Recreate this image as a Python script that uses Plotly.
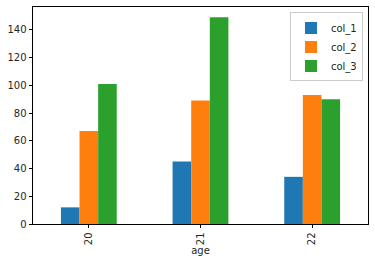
import plotly.graph_objects as go

categories = ["20", "21", "22"]
col_1 = [12, 45, 34]
col_2 = [67, 89, 93]
col_3 = [101, 149, 90]
series_names = ["col_1", "col_2", "col_3"]
colors = ["#1f77b4", "#ff7f0e", "#2ca02c"]

fig = go.Figure()
for name, vals, c in zip(series_names, [col_1, col_2, col_3], colors):
    fig.add_trace(go.Bar(x=categories, y=vals, name=name, marker_color=c,
                         marker_line_width=0))

font = dict(family="DejaVu Sans", size=10, color="#262626")
fig.update_layout(
    width=375, height=265,
    margin=dict(l=33, r=7, t=7, b=41),
    plot_bgcolor="white", paper_bgcolor="white",
    barmode="group", bargap=0.5, bargroupgap=0,
    font=font,
    showlegend=True,
    legend=dict(x=0.985, y=0.975, xanchor="right", yanchor="top",
                bordercolor="#cccccc", borderwidth=1, bgcolor="rgba(255,255,255,0.8)",
                font=dict(family="DejaVu Sans", size=10, color="#262626"),
                itemwidth=30, tracegroupgap=0),
)
fig.update_xaxes(
    type="category", range=[-0.5, 2.5],
    tickangle=-90, ticks="outside", ticklen=3.5, tickcolor="black", tickwidth=0.8,
    showline=True, linecolor="black", linewidth=0.8, mirror=True,
    showgrid=False, zeroline=False,
    title=dict(text="age", font=font, standoff=2),
)
fig.update_yaxes(
    range=[0, 156.45], tickvals=[0, 20, 40, 60, 80, 100, 120, 140],
    ticks="outside", ticklen=3.5, tickcolor="black", tickwidth=0.8,
    showline=True, linecolor="black", linewidth=0.8, mirror=True,
    showgrid=False, zeroline=False,
)
fig.write_html("out.html")
